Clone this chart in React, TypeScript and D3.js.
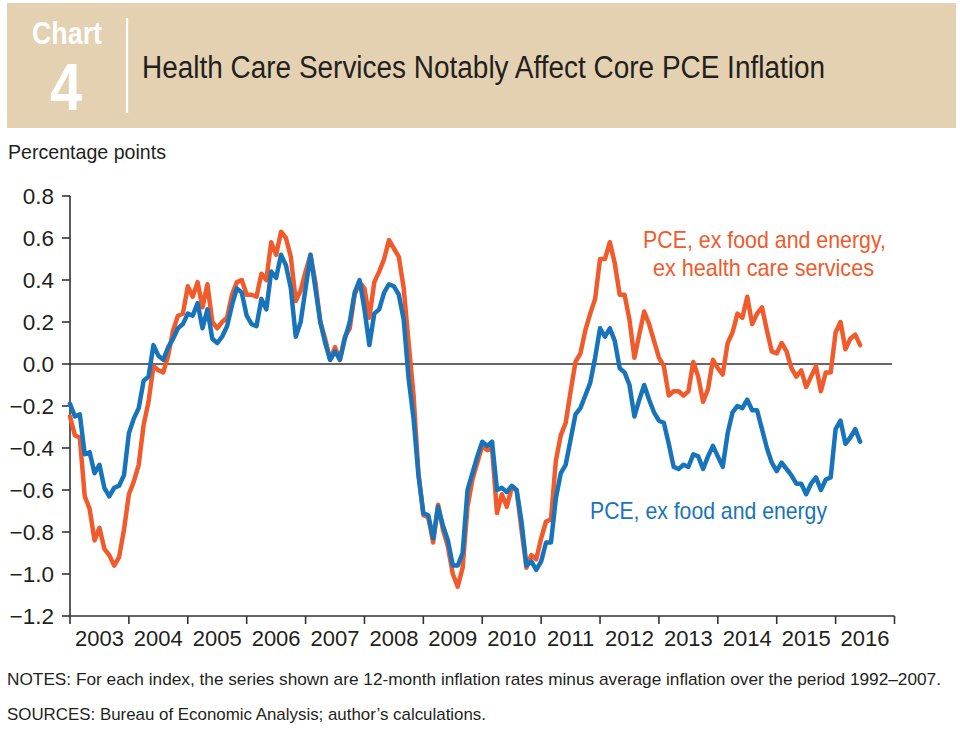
import React from "react";
import * as d3 from "d3";

// Monthly values, Jan 2003 .. Jun 2016 (percentage points)
const exHealth: number[] = [
  -0.25, -0.34, -0.35, -0.63, -0.69, -0.84, -0.78, -0.88, -0.91, -0.96, -0.92, -0.79,
  -0.62, -0.56, -0.48, -0.29, -0.18, -0.01, -0.03, -0.04, 0.04, 0.16, 0.23, 0.24,
  0.37, 0.32, 0.39, 0.27, 0.38, 0.20, 0.17, 0.20, 0.22, 0.33, 0.39, 0.40,
  0.33, 0.33, 0.32, 0.43, 0.40, 0.58, 0.52, 0.63, 0.60, 0.51, 0.30, 0.35,
  0.44, 0.52, 0.39, 0.20, 0.12, 0.02, 0.08, 0.02, 0.13, 0.17, 0.33, 0.39,
  0.36, 0.22, 0.39, 0.44, 0.50, 0.59, 0.55, 0.51, 0.36, 0.10, -0.15, -0.52,
  -0.72, -0.73, -0.85, -0.67, -0.79, -0.87, -1.0, -1.06, -0.97, -0.68, -0.55, -0.47,
  -0.39, -0.41, -0.40, -0.71, -0.62, -0.68, -0.59, -0.60, -0.79, -0.97, -0.91, -0.93,
  -0.83, -0.75, -0.74, -0.46, -0.34, -0.28, -0.13, 0.01, 0.05, 0.16, 0.24, 0.31,
  0.50, 0.50, 0.58, 0.48, 0.33, 0.33, 0.21, 0.03, 0.14, 0.25, 0.19, 0.11,
  0.03, -0.01, -0.15, -0.13, -0.13, -0.15, -0.13, 0.01, -0.06, -0.18, -0.12, 0.02,
  -0.02, -0.05, 0.10, 0.15, 0.24, 0.22, 0.32, 0.19, 0.24, 0.27, 0.16, 0.06,
  0.05, 0.10, 0.06, -0.02, -0.06, -0.03, -0.11, -0.06, -0.01, -0.13, -0.04, -0.04,
  0.15, 0.20, 0.07, 0.12, 0.14, 0.09,
];

const exFoodEnergy: number[] = [
  -0.19, -0.25, -0.24, -0.43, -0.42, -0.52, -0.48, -0.59, -0.63, -0.59, -0.58, -0.53,
  -0.33, -0.26, -0.21, -0.08, -0.06, 0.09, 0.04, 0.02, 0.08, 0.12, 0.17, 0.19,
  0.24, 0.23, 0.29, 0.17, 0.26, 0.12, 0.10, 0.13, 0.18, 0.28, 0.36, 0.34,
  0.23, 0.19, 0.18, 0.31, 0.26, 0.44, 0.41, 0.52, 0.47, 0.36, 0.13, 0.20,
  0.36, 0.52, 0.36, 0.20, 0.10, 0.02, 0.06, 0.02, 0.12, 0.20, 0.34, 0.40,
  0.26, 0.09, 0.24, 0.26, 0.34, 0.38, 0.37, 0.33, 0.21, -0.07, -0.26, -0.53,
  -0.71, -0.72, -0.83, -0.68, -0.77, -0.84, -0.96, -0.96, -0.90, -0.60, -0.52, -0.44,
  -0.37, -0.39, -0.37, -0.60, -0.59, -0.61, -0.58, -0.60, -0.75, -0.96, -0.94, -0.98,
  -0.94, -0.85, -0.85, -0.64, -0.52, -0.48, -0.36, -0.24, -0.21, -0.15, -0.09, 0.03,
  0.17, 0.13, 0.17, 0.11, -0.02, -0.04, -0.10, -0.25, -0.17, -0.10, -0.17, -0.23,
  -0.27, -0.28, -0.38, -0.49, -0.50, -0.48, -0.49, -0.43, -0.44, -0.50, -0.44, -0.39,
  -0.44, -0.49, -0.33, -0.23, -0.20, -0.21, -0.17, -0.22, -0.22, -0.31, -0.40, -0.47,
  -0.51, -0.47, -0.50, -0.53, -0.57, -0.57, -0.62, -0.57, -0.54, -0.60, -0.55, -0.54,
  -0.31, -0.27, -0.38, -0.35, -0.31, -0.37,
];

const years: number[] = [2003, 2004, 2005, 2006, 2007, 2008, 2009, 2010, 2011, 2012, 2013, 2014, 2015, 2016];
const yTicks: number[] = [0.8, 0.6, 0.4, 0.2, 0.0, -0.2, -0.4, -0.6, -0.8, -1.0, -1.2];

const title = "Health Care Services Notably Affect Core PCE Inflation";
const yLabel = "Percentage points";
const notes = "NOTES: For each index, the series shown are 12-month inflation rates minus average inflation over the period 1992\u20132007.";
const sources = "SOURCES: Bureau of Economic Analysis; author\u2019s calculations.";
const orangeLabel = ["PCE, ex food and energy,", "ex health care services"];
const blueLabel = "PCE, ex food and energy";

const NARROW = "'Liberation Sans Narrow', 'Arial Narrow', 'Liberation Sans', Arial, sans-serif";
const SANS = "'Liberation Sans', Arial, Helvetica, sans-serif";
const ORANGE = "#F15A2B";
const BLUE = "#1774BB";
const INK = "#231F20";

export default function App() {
  const x = d3.scaleLinear().domain([0, 168]).range([70, 894.5]);
  const y = d3.scaleLinear().domain([-1.2, 0.8]).range([616, 196]);
  const line = d3
    .line<number>()
    .x((_, i) => x(i))
    .y((d) => y(d))
    .curve(d3.curveLinear);

  const fmt = (v: number) => (v < 0 ? "\u2212" : "") + Math.abs(v).toFixed(1);

  return (
    <svg
      width={960}
      height={729}
      style={{ position: "absolute", left: 0, top: 0, display: "block", background: "#fff" }}
    >
      {/* Header band */}
      <rect x={7} y={3} width={949} height={125} fill="#E3D1B1" />
      <text x={67} y={44} textAnchor="middle" fill="#fff" fontFamily={NARROW} fontWeight="bold" fontSize={31} textLength={70} lengthAdjust="spacingAndGlyphs">
        Chart
      </text>
      <text x={66} y={110} textAnchor="middle" fill="#fff" fontFamily={NARROW} fontWeight="bold" fontSize={67} textLength={32} lengthAdjust="spacingAndGlyphs">
        4
      </text>
      <rect x={126} y={18} width={2.2} height={95} fill="#fff" />
      <text x={142} y={78} fill={INK} fontFamily={NARROW} fontSize={31} textLength={683} lengthAdjust="spacingAndGlyphs">
        {title}
      </text>

      {/* Y label */}
      <text x={8} y={159} fill={INK} fontFamily={NARROW} fontSize={21} textLength={158} lengthAdjust="spacingAndGlyphs">
        {yLabel}
      </text>

      {/* Y axis */}
      <line x1={70} x2={70} y1={y(0.8)} y2={y(-1.2)} stroke="#333" strokeWidth={1.6} />
      {yTicks.map((t) => (
        <g key={t}>
          <line x1={62} x2={70} y1={y(t)} y2={y(t)} stroke="#333" strokeWidth={1.6} />
          <text x={54} y={y(t)} dy="0.35em" textAnchor="end" fill={INK} fontFamily={SANS} fontSize={22.5}>
            {fmt(t)}
          </text>
        </g>
      ))}

      {/* X axis */}
      <line x1={70} x2={x(168)} y1={y(-1.2)} y2={y(-1.2)} stroke="#333" strokeWidth={1.6} />
      {d3.range(0, 169, 12).map((m) => (
        <line key={m} x1={x(m)} x2={x(m)} y1={y(-1.2)} y2={y(-1.2) + 8} stroke="#333" strokeWidth={1.6} />
      ))}
      {years.map((yr, i) => (
        <text key={yr} x={x(i * 12 + 6)} y={646} textAnchor="middle" fill={INK} fontFamily={SANS} fontSize={22}>
          {yr}
        </text>
      ))}

      {/* Zero line */}
      <line x1={70} x2={892} y1={y(0)} y2={y(0)} stroke="#333" strokeWidth={1.4} />

      {/* Series */}
      <path d={line(exHealth) || ""} fill="none" stroke={ORANGE} strokeWidth={4.5} strokeLinejoin="round" strokeLinecap="round" />
      <path d={line(exFoodEnergy) || ""} fill="none" stroke={BLUE} strokeWidth={4.5} strokeLinejoin="round" strokeLinecap="round" />

      {/* Series labels */}
      <text x={643} y={248} fill={ORANGE} fontFamily={NARROW} fontSize={24} textLength={243} lengthAdjust="spacingAndGlyphs">
        {orangeLabel[0]}
      </text>
      <text x={653} y={276} fill={ORANGE} fontFamily={NARROW} fontSize={24} textLength={221} lengthAdjust="spacingAndGlyphs">
        {orangeLabel[1]}
      </text>
      <text x={590} y={519} fill={BLUE} fontFamily={NARROW} fontSize={24} textLength={237} lengthAdjust="spacingAndGlyphs">
        {blueLabel}
      </text>

      {/* Notes */}
      <g transform="translate(7,685) scale(1,1.12)">
        <text x={0} y={0} fill={INK} fontFamily={SANS} fontSize={15.5} textLength={934} lengthAdjust="spacingAndGlyphs">
          {notes}
        </text>
      </g>
      <g transform="translate(7,720) scale(1,1.12)">
        <text x={0} y={0} fill={INK} fontFamily={SANS} fontSize={15.5} textLength={479} lengthAdjust="spacingAndGlyphs">
          {sources}
        </text>
      </g>
    </svg>
  );
}
